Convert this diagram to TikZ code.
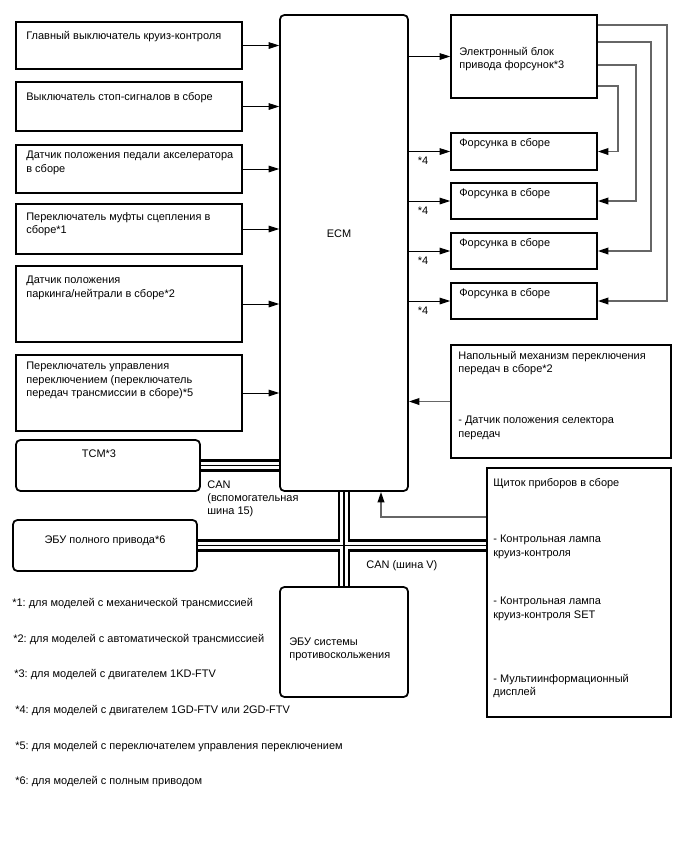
\documentclass[tikz,border=0pt]{standalone}
\usepackage{fontspec}
\setmainfont{Liberation Sans}
\usetikzlibrary{arrows.meta,calc}
\definecolor{wire}{HTML}{666666}
\newcommand\diagfont{\fontsize{6.25}{7.6}\selectfont\frenchspacing}

\begin{document}
\begin{tikzpicture}[x=0.2mm, y=-0.2mm,
  blk/.style={draw, line width=1pt, inner sep=0pt},
  rblk/.style={blk, rounded corners=2.5pt},
  txt/.style={font=\diagfont, align=left, anchor=north west, inner sep=0pt},
  ctxt/.style={font=\diagfont, anchor=base, inner sep=0pt},
  sig/.style={line width=0.55pt, -{Triangle[length=6pt,width=3.8pt]}},
  feed/.style={draw=wire, line width=0.9pt, -{Triangle[length=6pt,width=3.8pt,color=black]}},
  can/.style={line width=7pt, postaction={draw=white, line width=4.2pt}, postaction={draw=black, line width=0.8pt}}]
  \useasboundingbox (0,0) rectangle (688,852);

  % input switches and sensors
  \node[blk, minimum width=45.2mm, minimum height=9.4mm] (s1) at (129,45.5) {};
  \node[blk, minimum width=45.2mm, minimum height=9.8mm] (s2) at (129,106.5) {};
  \node[blk, minimum width=45.2mm, minimum height=9.6mm] (s3) at (129,169) {};
  \node[blk, minimum width=45.2mm, minimum height=10mm] (s4) at (129,229) {};
  \node[blk, minimum width=45.2mm, minimum height=15.2mm] (s5) at (129,304) {};
  \node[blk, minimum width=45.2mm, minimum height=15.2mm] (s6) at (129,393) {};
  \node[txt] (s1t) at (26,31) {Главный выключатель круиз-контроля};
  \node[txt] (s2t) at (26,92) {Выключатель стоп-сигналов в сборе};
  \node[txt] (s3t) at (26,151) {Датчик положения педали акселератора\\в сборе};
  \node[txt] (s4t) at (26,212) {Переключатель муфты сцепления в\\сборе*1};
  \node[txt] (s5t) at (26,276) {Датчик положения\\паркинга/нейтрали в сборе*2};
  \node[txt] (s6t) at (26,362) {Переключатель управления\\переключением (переключатель\\передач трансмиссии в сборе)*5};

  % ECUs on the left
  \node[rblk, minimum width=36.8mm, minimum height=10.2mm] (tcm) at (108,465.5) {};
  \node[ctxt] (tcmt) at (99,457) {TCM*3};
  \node[rblk, minimum width=36.8mm, minimum height=10.2mm] (awd) at (105,545.5) {};
  \node[ctxt] (awdt) at (105,543) {ЭБУ полного привода*6};

  % engine ECU
  \node[rblk, minimum width=25.6mm, minimum height=95.2mm] (ecm) at (344,253) {};
  \node[ctxt] (ecmt) at (339,237) {ECM};

  % injectors
  \node[blk, minimum width=29.2mm, minimum height=16.6mm] (drv) at (524,56.5) {};
  \node[txt] (drvt) at (459,47) {Электронный блок\\привода форсунок*3};
  \foreach \n/\y in {1/151.5, 2/201, 3/251, 4/301} {
    \node[blk, minimum width=29.2mm, minimum height=7.3mm] (inj\n) at (524,\y) {};
    \node[txt] (inj\n t) at (459,\y-13) {Форсунка в сборе};
    \node[ctxt] (inj\n n) at (423,\y+13) {*4};
  }

  % floor shift and meter
  \node[blk, minimum width=44mm, minimum height=22.6mm] (sft) at (561,401.5) {};
  \node[txt] (sftt) at (458,351) {Напольный механизм переключения\\передач в сборе*2};
  \node[txt] (sftd) at (458,416) {- Датчик положения селектора\\передач};
  \node[blk, minimum width=36.8mm, minimum height=49.8mm] (cmb) at (579,592.5) {};
  \node[txt] (cmbt) at (493,478) {Щиток приборов в сборе};
  \node[txt] (cmb1) at (493,535) {- Контрольная лампа\\круиз-контроля};
  \node[txt] (cmb2) at (493,597) {- Контрольная лампа\\круиз-контроля SET};
  \node[txt] (cmb3) at (493,674) {- Мультиинформационный\\дисплей};

  % skid control
  \node[rblk, minimum width=25.6mm, minimum height=22mm] (vsc) at (344,642) {};
  \node[txt] (vsct) at (289,637) {ЭБУ системы\\противоскольжения};

  % signal lines
  \foreach \n in {s1,s2,s3,s4,s5,s6}
    \draw[sig] (\n.east) -- (\n.east -| ecm.west);
  \foreach \n in {drv,inj1,inj2,inj3,inj4}
    \draw[sig] (\n.west -| ecm.east) -- (\n.west);
  \foreach \dy/\dx/\n in {11/69/inj4, 28/53/inj3, 51/38/inj2, 72/20/inj1}
    \draw[feed] ($(drv.north east)+(0,\dy)$) -| ($(\n.east)+(\dx,0)$) -- (\n.east);
  \draw[feed] (sft.west) -- (sft.west -| ecm.east);
  \draw[feed] ($(cmb.north west)+(0,50)$) -| ($(ecm.south)+(37,0)$);

  % CAN buses
  \draw[can] (tcm.east) -- (tcm.east -| ecm.west);
  \draw[can] (awd.east) -- (awd.east -| cmb.west) (ecm.south) -- (vsc.north);
  \node[txt] (can1) at (207,480) {CAN\\(вспомогательная\\шина 15)};
  \node[txt] (can2) at (366,560) {CAN (шина V)};

  % notes
  \node[txt] (fn1) at (12,598) {*1: для моделей с механической трансмиссией};
  \node[txt] (fn2) at (13,634) {*2: для моделей с автоматической трансмиссией};
  \node[txt] (fn3) at (14,669) {*3: для моделей с двигателем 1KD-FTV};
  \node[txt] (fn4) at (15,705) {*4: для моделей с двигателем 1GD-FTV или 2GD-FTV};
  \node[txt] (fn5) at (15,741) {*5: для моделей с переключателем управления переключением};
  \node[txt] (fn6) at (15,776) {*6: для моделей с полным приводом};
\end{tikzpicture}
\end{document}
